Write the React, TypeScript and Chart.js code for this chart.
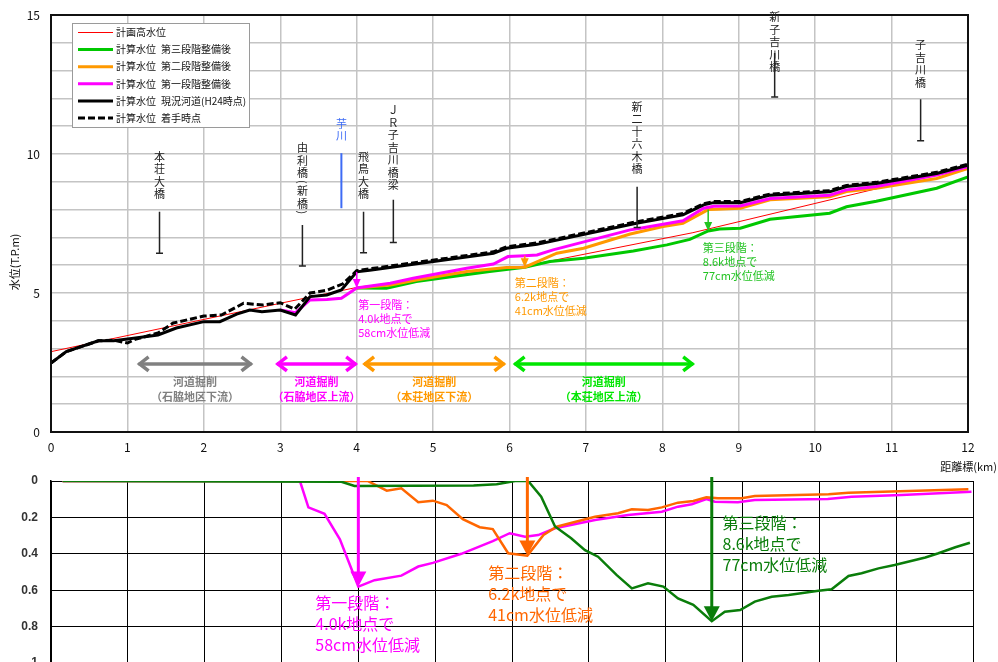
import React, { useEffect, useRef } from "react";
import { Chart, registerables } from "chart.js";

Chart.register(...registerables);

const JP = '"Noto Sans CJK JP", "Noto Sans", sans-serif';
Chart.defaults.font.family = JP;

// ---------- 上段：計算水位縦断 (距離標 km / 水位 T.P.m) ----------
const planKm = [0, 3.0, 4.0, 6.2, 8.4, 11.0, 12.0];
const planLevel = [2.89, 4.63, 5.2, 5.97, 7.17, 8.88, 9.5];

const stage3Km = [4.0, 4.39, 4.78, 5.74, 6.2, 6.53, 6.97, 7.62, 8.06, 8.36, 8.6, 8.75, 9.02, 9.41, 10.19, 10.41, 10.8, 11.59, 12.0];
const stage3Level = [5.18, 5.17, 5.41, 5.77, 5.93, 6.13, 6.25, 6.51, 6.73, 6.93, 7.23, 7.3, 7.33, 7.65, 7.87, 8.1, 8.3, 8.77, 9.18];

const stage2Km = [4.0, 4.44, 4.78, 5.44, 5.96, 6.2, 6.62, 6.97, 7.58, 8.01, 8.27, 8.6, 8.71, 9.02, 9.41, 10.19, 10.41, 10.8, 11.59, 12.0];
const stage2Level = [5.18, 5.29, 5.47, 5.77, 5.92, 5.93, 6.43, 6.61, 7.12, 7.39, 7.51, 8.0, 8.01, 8.05, 8.35, 8.46, 8.65, 8.77, 9.12, 9.48];

const stage1Km = [3.0, 3.2, 3.39, 3.61, 3.8, 4.0, 4.44, 4.74, 5.44, 5.79, 5.98, 6.2, 6.36, 6.57, 7.58, 7.71, 8.27, 8.54, 8.67, 9.02, 9.41, 10.19, 10.41, 10.8, 11.59, 12.0];
const stage1Level = [4.39, 4.29, 4.75, 4.77, 4.81, 5.18, 5.35, 5.53, 5.89, 6.04, 6.31, 6.34, 6.37, 6.55, 7.27, 7.33, 7.6, 8.05, 8.12, 8.13, 8.4, 8.52, 8.71, 8.83, 9.24, 9.54];

const currentKm = [0, 0.2, 0.62, 0.82, 1.08, 1.4, 1.64, 2.0, 2.21, 2.43, 2.6, 2.76, 3.0, 3.2, 3.39, 3.61, 3.8, 4.0, 4.17, 5.79, 5.96, 6.36, 7.66, 8.27, 8.54, 8.67, 9.02, 9.41, 10.19, 10.41, 10.8, 11.59, 12.0];
const currentLevel = [2.48, 2.89, 3.28, 3.28, 3.37, 3.49, 3.74, 3.97, 3.97, 4.24, 4.39, 4.33, 4.39, 4.21, 4.87, 4.93, 5.11, 5.76, 5.82, 6.43, 6.61, 6.75, 7.51, 7.81, 8.17, 8.25, 8.25, 8.52, 8.64, 8.83, 8.94, 9.3, 9.6];

const startKm = [0, 0.2, 0.62, 0.82, 1.0, 1.1, 1.4, 1.6, 2.0, 2.23, 2.52, 2.78, 3.0, 3.19, 3.39, 3.61, 3.82, 4.0, 4.17, 5.79, 5.96, 6.36, 7.66, 8.27, 8.54, 8.67, 9.02, 9.41, 10.19, 10.41, 10.8, 11.59, 12.0];
const startLevel = [2.48, 2.89, 3.28, 3.3, 3.2, 3.33, 3.56, 3.92, 4.17, 4.21, 4.63, 4.57, 4.65, 4.42, 5.0, 5.1, 5.33, 5.8, 5.87, 6.48, 6.66, 6.8, 7.56, 7.86, 8.21, 8.29, 8.29, 8.56, 8.68, 8.87, 8.98, 9.34, 9.63];

const levelTickLabels = [0, 5, 10, 15];

// ---------- 下段：水位低減量 (m) ----------
const drop1Km = [0.15, 3.24, 3.35, 3.56, 3.76, 4.0, 4.21, 4.56, 4.78, 4.97, 5.34, 5.75, 5.97, 6.17, 6.34, 6.56, 7.08, 7.51, 7.95, 8.16, 8.34, 8.53, 8.64, 8.94, 9.16, 10.11, 10.42, 11.07, 11.98];
const drop1 = [0, 0, 0.145, 0.18, 0.32, 0.58, 0.545, 0.52, 0.47, 0.45, 0.4, 0.33, 0.287, 0.306, 0.297, 0.26, 0.214, 0.187, 0.169, 0.141, 0.128, 0.099, 0.114, 0.117, 0.104, 0.099, 0.086, 0.077, 0.059];

const drop2Km = [0.15, 4.12, 4.37, 4.56, 4.78, 4.97, 5.15, 5.36, 5.58, 5.75, 5.95, 6.2, 6.41, 6.58, 7.08, 7.38, 7.56, 7.77, 7.95, 8.16, 8.36, 8.53, 8.68, 8.99, 9.16, 10.12, 10.38, 11.94];
const drop2 = [0, 0, 0.053, 0.04, 0.117, 0.108, 0.132, 0.21, 0.254, 0.264, 0.397, 0.41, 0.297, 0.251, 0.196, 0.177, 0.155, 0.159, 0.145, 0.119, 0.11, 0.09, 0.095, 0.095, 0.082, 0.073, 0.064, 0.046];

const drop3Km = [0.15, 3.78, 3.95, 5.5, 5.8, 6.04, 6.21, 6.38, 6.56, 6.77, 6.95, 7.12, 7.36, 7.56, 7.77, 7.97, 8.16, 8.36, 8.6, 8.77, 8.97, 9.16, 9.38, 9.6, 9.99, 10.16, 10.38, 10.55, 10.77, 10.98, 11.38, 11.55, 11.77, 11.96];
const drop3 = [0, 0.004, 0.027, 0.025, 0.018, 0, 0, 0.086, 0.25, 0.315, 0.38, 0.416, 0.516, 0.59, 0.562, 0.58, 0.645, 0.68, 0.77, 0.718, 0.709, 0.663, 0.636, 0.626, 0.603, 0.595, 0.522, 0.507, 0.48, 0.462, 0.42, 0.397, 0.364, 0.339];

const dropTickLabels = [0, 0.2, 0.4, 0.6, 0.8, 1];

// ---------- 凡例・注記 ----------
const seriesNames = [
  "計画高水位",
  "計算水位\u2002第三段階整備後",
  "計算水位\u2002第二段階整備後",
  "計算水位\u2002第一段階整備後",
  "計算水位\u2002現況河道(H24時点)",
  "計算水位\u2002着手時点",
];
const seriesColors = ["#FF0000", "#00C800", "#FF9900", "#FF00FF", "#000000", "#000000"];
const seriesWidths = [1, 3, 3, 3, 3, 3];

const bridges = [
  { name: "本荘大橋", km: 1.42, textLevel: 9.9, lineFrom: 7.92, lineTo: 6.43 },
  { name: "由利橋(新橋)", km: 3.29, textLevel: 10.22, lineFrom: 7.45, lineTo: 5.97 },
  { name: "飛鳥大橋", km: 4.09, textLevel: 9.9, lineFrom: 7.92, lineTo: 6.45 },
  { name: "ＪＲ子吉川橋梁", km: 4.48, textLevel: 11.58, lineFrom: 8.35, lineTo: 6.82 },
  { name: "新二十六木橋", km: 7.67, textLevel: 11.7, lineFrom: 8.82, lineTo: 7.36 },
  { name: "新子吉川橋", km: 9.47, textLevel: 14.93, lineFrom: 13.63, lineTo: 12.05 },
  { name: "子吉川橋", km: 11.38, textLevel: 13.92, lineFrom: 11.97, lineTo: 10.48 },
];
const tributary = { name: "芋川", km: 3.8, textLevel: 11.1, lineFrom: 10.03, lineTo: 8.05 };

const works = [
  { from: 1.12, to: 2.65, color: "#808080", area: "（石脇地区下流）" },
  { from: 2.93, to: 4.02, color: "#FF00FF", area: "（石脇地区上流）" },
  { from: 4.07, to: 5.96, color: "#FF9900", area: "（本荘地区下流）" },
  { from: 6.04, to: 8.43, color: "#00E600", area: "（本荘地区上流）" },
];
const worksLevel = 2.45;
const worksTextLevels = [1.79, 1.27];

function levelAt(km: number[], lv: number[], x: number): number {
  for (let i = 0; i < km.length - 1; i++) {
    if (x >= km[i] && x <= km[i + 1]) {
      const t = (x - km[i]) / (km[i + 1] - km[i] || 1);
      return lv[i] + t * (lv[i + 1] - lv[i]);
    }
  }
  return lv[lv.length - 1];
}

const noteLines = (k: string, km: string, cm: string) => [`第${k}段階：`, `${km}k地点で`, `${cm}cm水位低減`];

const stageNotes = [
  { km: 4.0, from: levelAt(currentKm, currentLevel, 4.0), to: levelAt(stage1Km, stage1Level, 4.0), color: "#FF00FF", textKm: 4.02, textLevel: 4.57, lines: noteLines("一", "4.0", "58") },
  { km: 6.2, from: levelAt(stage1Km, stage1Level, 6.2), to: levelAt(stage2Km, stage2Level, 6.2), color: "#FF9900", textKm: 6.07, textLevel: 5.35, lines: noteLines("二", "6.2", "41") },
  { km: 8.6, from: levelAt(stage2Km, stage2Level, 8.6), to: levelAt(stage3Km, stage3Level, 8.6), color: "#22C322", textKm: 8.53, textLevel: 6.61, lines: noteLines("三", "8.6", "77") },
];

const dropNotes = [
  { km: 4.0, value: levelAt(drop1Km, drop1, 4.0), color: "#FF00FF", textKm: 3.44, textValue: 0.672, lines: noteLines("一", "4.0", "58") },
  { km: 6.2, value: levelAt(drop2Km, drop2, 6.2), color: "#FF6600", textKm: 5.69, textValue: 0.507, lines: noteLines("二", "6.2", "41") },
  { km: 8.6, value: levelAt(drop3Km, drop3, 8.6), color: "#0A7D0A", textKm: 8.74, textValue: 0.232, lines: noteLines("三", "8.6", "77") },
];

const pts = (km: number[], v: number[]) => km.map((x, i) => ({ x, y: v[i] }));

function arrowDown(ctx: CanvasRenderingContext2D, x: number, y1: number, y2: number, color: string, shaft: number, headW: number, headH: number) {
  ctx.strokeStyle = color;
  ctx.fillStyle = color;
  ctx.lineWidth = shaft;
  ctx.lineCap = "butt";
  ctx.beginPath();
  ctx.moveTo(x, y1);
  ctx.lineTo(x, y2 - headH + 1);
  ctx.stroke();
  ctx.beginPath();
  ctx.moveTo(x - headW / 2, y2 - headH);
  ctx.lineTo(x + headW / 2, y2 - headH);
  ctx.lineTo(x, y2);
  ctx.closePath();
  ctx.fill();
}

function doubleArrow(ctx: CanvasRenderingContext2D, x1: number, x2: number, y: number, color: string) {
  ctx.strokeStyle = color;
  ctx.lineWidth = 3.5;
  ctx.lineCap = "butt";
  ctx.lineJoin = "miter";
  ctx.beginPath();
  ctx.moveTo(x1 + 2, y);
  ctx.lineTo(x2 - 2, y);
  ctx.stroke();
  ctx.beginPath();
  ctx.moveTo(x1 + 12, y - 7);
  ctx.lineTo(x1 + 3, y);
  ctx.lineTo(x1 + 12, y + 7);
  ctx.stroke();
  ctx.beginPath();
  ctx.moveTo(x2 - 12, y - 7);
  ctx.lineTo(x2 - 3, y);
  ctx.lineTo(x2 - 12, y + 7);
  ctx.stroke();
}

function verticalText(ctx: CanvasRenderingContext2D, text: string, x: number, y0: number, step: number) {
  let y = y0;
  for (const ch of Array.from(text)) {
    if (ch === "(" || ch === ")") {
      ctx.save();
      ctx.translate(x, y - step * 0.28);
      ctx.rotate(Math.PI / 2);
      ctx.fillText(ch, 0, 0);
      ctx.restore();
      y += step * 0.44;
    } else {
      ctx.fillText(ch, x, y);
      y += step;
    }
  }
}

const topOverlay = {
  id: "topOverlay",
  afterDraw(chart: any) {
    const { ctx, chartArea: a, scales } = chart;
    const X = (v: number) => scales.x.getPixelForValue(v);
    const Y = (v: number) => scales.y.getPixelForValue(v);
    ctx.save();

    // 枠線
    ctx.strokeStyle = "#111";
    ctx.lineWidth = 2;
    ctx.strokeRect(a.left, a.top, a.right - a.left, a.bottom - a.top);

    // 橋梁位置
    ctx.font = `11px ${JP}`;
    ctx.textAlign = "center";
    ctx.textBaseline = "middle";
    for (const b of bridges) {
      const x = X(b.km);
      ctx.fillStyle = "#222";
      verticalText(ctx, b.name, x, Y(b.textLevel), 12.5);
      ctx.strokeStyle = "#222";
      ctx.lineWidth = 1.5;
      ctx.beginPath();
      ctx.moveTo(x, Y(b.lineFrom));
      ctx.lineTo(x, Y(b.lineTo));
      ctx.moveTo(x - 3.5, Y(b.lineTo));
      ctx.lineTo(x + 3.5, Y(b.lineTo));
      ctx.stroke();
    }
    // 支川合流点
    {
      const x = X(tributary.km);
      ctx.fillStyle = "#3D6BF5";
      verticalText(ctx, tributary.name, x, Y(tributary.textLevel), 12);
      ctx.strokeStyle = "#3D6BF5";
      ctx.lineWidth = 2;
      ctx.beginPath();
      ctx.moveTo(x, Y(tributary.lineFrom));
      ctx.lineTo(x, Y(tributary.lineTo));
      ctx.stroke();
    }

    // 段階別の水位低減
    for (const n of stageNotes) {
      arrowDown(ctx, X(n.km), Y(n.from), Y(n.to), n.color, 1.5, 8, 9);
      ctx.fillStyle = n.color;
      ctx.font = `11px ${JP}`;
      ctx.textAlign = "left";
      n.lines.forEach((t, i) => ctx.fillText(t, X(n.textKm), Y(n.textLevel) + i * 14));
    }

    // 河道掘削区間
    for (const w of works) {
      const x1 = X(w.from);
      const x2 = X(w.to);
      doubleArrow(ctx, x1, x2, Y(worksLevel), w.color);
      ctx.fillStyle = w.color;
      ctx.font = `bold 11px ${JP}`;
      ctx.textAlign = "center";
      ctx.fillText("河道掘削", (x1 + x2) / 2, Y(worksTextLevels[0]));
      ctx.fillText(w.area, (x1 + x2) / 2, Y(worksTextLevels[1]));
    }

    // 凡例
    const lx = 72, ly = 23, lw = 177, lh = 104;
    ctx.fillStyle = "#fff";
    ctx.fillRect(lx, ly, lw, lh);
    ctx.strokeStyle = "#9a9a9a";
    ctx.lineWidth = 1;
    ctx.strokeRect(lx + 0.5, ly + 0.5, lw, lh);
    ctx.font = `10px ${JP}`;
    ctx.textAlign = "left";
    seriesNames.forEach((name, i) => {
      const yy = ly + 9.5 + i * 17.1;
      ctx.strokeStyle = seriesColors[i];
      ctx.lineWidth = seriesWidths[i];
      ctx.setLineDash(i === 5 ? [7, 3] : []);
      ctx.beginPath();
      ctx.moveTo(lx + 6, yy);
      ctx.lineTo(lx + 41, yy);
      ctx.stroke();
      ctx.setLineDash([]);
      ctx.fillStyle = "#111";
      ctx.fillText(name, lx + 44, yy);
    });

    // 軸タイトル
    ctx.fillStyle = "#111";
    ctx.font = `11px ${JP}`;
    ctx.textAlign = "right";
    ctx.fillText("距離標(km)", 997, 467);
    ctx.save();
    ctx.translate(15, 262);
    ctx.rotate(-Math.PI / 2);
    ctx.textAlign = "center";
    ctx.fillText("水位(T.P.m)", 0, 0);
    ctx.restore();

    ctx.restore();
  },
};

const bottomOverlay = {
  id: "bottomOverlay",
  afterDraw(chart: any) {
    const { ctx, scales } = chart;
    const X = (v: number) => scales.x.getPixelForValue(v);
    const Y = (v: number) => scales.y.getPixelForValue(v);
    ctx.save();
    for (const n of dropNotes) {
      arrowDown(ctx, X(n.km), Y(0) - 4, Y(n.value), n.color, 3, 16, 15);
      ctx.fillStyle = n.color;
      ctx.font = `16px ${JP}`;
      ctx.textAlign = "left";
      ctx.textBaseline = "middle";
      n.lines.forEach((t, i) => ctx.fillText(t, X(n.textKm), Y(n.textValue) + i * 20.7));
    }
    ctx.restore();
  },
};

// 縦軸の幅を固定し、目盛ラベル由来の上下余白を外す
const fixedYAxis = (s: any) => {
  s.width = 51;
  s.paddingTop = 0;
  s.paddingBottom = 0;
};

export default function App() {
  const topRef = useRef<HTMLCanvasElement>(null);
  const bottomRef = useRef<HTMLCanvasElement>(null);

  useEffect(() => {
    const line = (label: string, data: any[], color: string, width: number, dash: number[] = []) => ({
      label,
      data,
      borderColor: color,
      backgroundColor: color,
      borderWidth: width,
      borderDash: dash,
      pointRadius: 0,
      tension: 0,
      fill: false,
    });

    const top = new Chart(topRef.current as HTMLCanvasElement, {
      type: "line",
      data: {
        datasets: [
          line(seriesNames[5], pts(startKm, startLevel), "#000", 3, [7, 3]),
          line(seriesNames[4], pts(currentKm, currentLevel), "#000", 3),
          line(seriesNames[3], pts(stage1Km, stage1Level), seriesColors[3], 3),
          line(seriesNames[2], pts(stage2Km, stage2Level), seriesColors[2], 3),
          line(seriesNames[1], pts(stage3Km, stage3Level), seriesColors[1], 3),
          line(seriesNames[0], pts(planKm, planLevel), seriesColors[0], 1),
        ],
      },
      options: {
        responsive: false,
        animation: false,
        events: [],
        layout: { padding: { left: 0, right: 30, top: 15, bottom: 0 } },
        plugins: { legend: { display: false }, tooltip: { enabled: false } },
        scales: {
          x: {
            type: "linear",
            min: 0,
            max: 12,
            ticks: { stepSize: 1, color: "#111", font: { size: 12 }, padding: 8, maxRotation: 0 },
            grid: { color: "#C4C4C4", lineWidth: 1.5, drawTicks: false },
            border: { display: false },
            afterFit: (s: any) => { s.height = 48; },
          },
          y: {
            type: "linear",
            min: 0,
            max: 15,
            ticks: {
              stepSize: 1,
              color: "#111",
              font: { size: 12 },
              padding: 11,
              callback: (v: any) => (levelTickLabels.includes(Number(v)) ? String(v) : ""),
            },
            grid: { color: "#C4C4C4", lineWidth: 1.5, drawTicks: false },
            border: { display: false },
            afterFit: fixedYAxis,
          },
        },
      },
      plugins: [topOverlay],
    } as any);

    const bottom = new Chart(bottomRef.current as HTMLCanvasElement, {
      type: "line",
      data: {
        datasets: [
          line("第三段階", pts(drop3Km, drop3), "#0A7D0A", 2.5),
          line("第二段階", pts(drop2Km, drop2), "#FF6600", 2.5),
          line("第一段階", pts(drop1Km, drop1), "#FF00FF", 2.5),
        ],
      },
      options: {
        responsive: false,
        animation: false,
        events: [],
        layout: { padding: { left: 0, right: 25, top: 11, bottom: 0 } },
        plugins: { legend: { display: false }, tooltip: { enabled: false } },
        scales: {
          x: {
            type: "linear",
            min: 0,
            max: 12,
            ticks: { stepSize: 1, display: false },
            grid: { color: "#000", lineWidth: 1, drawTicks: false },
            border: { display: true, color: "#000", width: 1.5 },
            afterFit: (s: any) => { s.height = 57; },
          },
          y: {
            type: "linear",
            reverse: true,
            min: 0,
            max: 1,
            ticks: {
              stepSize: 0.2,
              color: "#333",
              font: { size: 12, weight: "bold", family: '"Liberation Sans", Arial, sans-serif' },
              padding: 13,
              callback: (v: any) => {
                const r = Math.round(Number(v) * 10) / 10;
                return dropTickLabels.includes(r) ? String(r) : "";
              },
            },
            grid: { color: "#000", lineWidth: 1, drawTicks: false },
            border: { display: true, color: "#000", width: 1.5 },
            afterFit: fixedYAxis,
          },
        },
      },
      plugins: [bottomOverlay],
    } as any);

    return () => {
      top.destroy();
      bottom.destroy();
    };
  }, []);

  return (
    <div
      style={{
        position: "fixed",
        left: 0,
        top: 0,
        width: 998,
        height: 662,
        overflow: "hidden",
        background: "#fff",
      }}
    >
      <canvas ref={topRef} width={998} height={480} style={{ position: "absolute", left: 0, top: 0, display: "block" }} />
      <canvas ref={bottomRef} width={998} height={250} style={{ position: "absolute", left: 0, top: 470, display: "block" }} />
    </div>
  );
}
